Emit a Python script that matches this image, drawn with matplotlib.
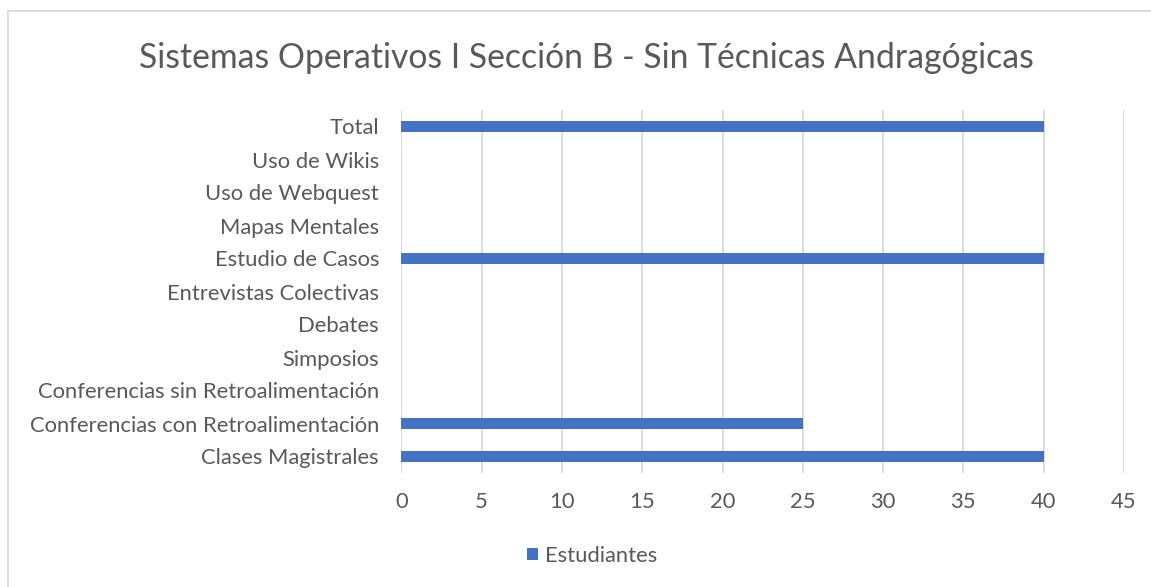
import matplotlib
matplotlib.use("Agg")
import matplotlib.pyplot as plt
from matplotlib.lines import Line2D
from matplotlib.patches import Patch

categories = [
    "Clases Magistrales",
    "Conferencias con Retroalimentación",
    "Conferencias sin Retroalimentación",
    "Simposios",
    "Debates",
    "Entrevistas Colectivas",
    "Estudio de Casos",
    "Mapas Mentales",
    "Uso de Webquest",
    "Uso de Wikis",
    "Total",
]
estudiantes = [40, 25, 0, 0, 0, 0, 40, 0, 0, 0, 40]
x_ticks = [0, 5, 10, 15, 20, 25, 30, 35, 40, 45]
series_name = "Estudiantes"
title = "Sistemas Operativos I Sección B - Sin Técnicas Andragógicas"

plt.rcParams['font.family'] = ['Lato', 'DejaVu Sans']
TXT = "#595959"
GRID = "#D9D9D9"
BAR = "#4472C4"

W, H = 1151, 587
fig = plt.figure(figsize=(W / 100, H / 100), dpi=100)
fig.patch.set_facecolor("white")

# chart border (extends off right and bottom edges)
fig.add_artist(Line2D([8 / W, 8 / W], [1 - 11 / H, 0], transform=fig.transFigure,
                      color=GRID, lw=1.3))
fig.add_artist(Line2D([8 / W, 1], [1 - 11 / H, 1 - 11 / H], transform=fig.transFigure,
                      color=GRID, lw=1.3))

left, right, top, bottom = 401.3, 1124, 110, 473
ax = fig.add_axes([left / W, 1 - bottom / H, (right - left) / W, (bottom - top) / H])
ypos = list(range(len(categories)))
ax.barh(ypos, estudiantes, height=0.36, color=BAR, zorder=3)
ax.set_xlim(0, 45)
ax.set_ylim(-0.5, len(categories) - 0.5)
ax.set_xticks(x_ticks)
ax.set_yticks(ypos)
ax.set_yticklabels(categories)
ax.xaxis.grid(True, color=GRID, lw=1.3, zorder=0)
ax.set_axisbelow(True)
for s in ax.spines.values():
    s.set_visible(False)
ax.tick_params(axis='both', length=0, colors=TXT, labelsize=15.8)
ax.tick_params(axis='x', pad=14)
ax.tick_params(axis='y', pad=16)

fig.text(586 / W, 1 - 68 / H, title, ha='center', va='baseline', fontsize=24.3, color=TXT)

leg = fig.legend(handles=[Patch(facecolor=BAR, label=series_name)],
                 loc='center', bbox_to_anchor=(592 / W, 1 - 556 / H),
                 frameon=False, fontsize=15.8, handlelength=0.5, handleheight=0.5,
                 handletextpad=0.35)
for t in leg.get_texts():
    t.set_color(TXT)

fig.savefig("out.png", dpi=100)
